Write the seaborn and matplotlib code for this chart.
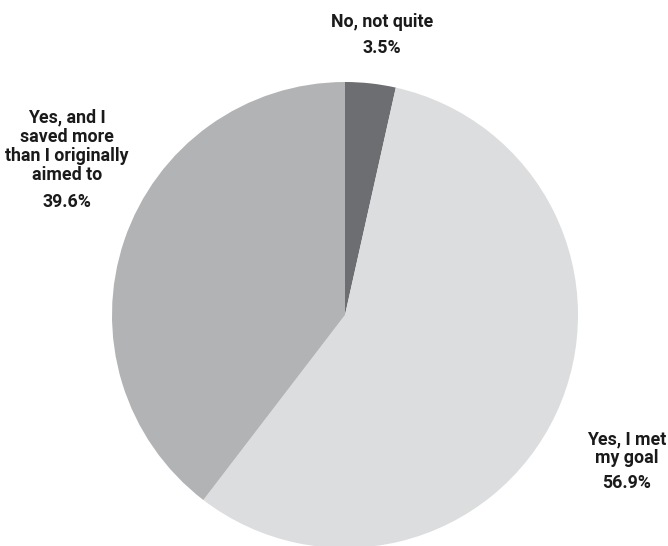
import matplotlib
matplotlib.use("Agg")
import matplotlib.pyplot as plt
from matplotlib import font_manager
import seaborn as sns

# Survey answers, clockwise from the top
labels = ["No, not quite", "Yes, I met\nmy goal", "Yes, and I\nsaved more\nthan I originally\naimed to"]
shares = [3.5, 56.9, 39.6]
colors = ["#6d6e71", "#dcdddf", "#b2b3b5"]

sns.set_theme(style="white")
available = {f.name for f in font_manager.fontManager.ttflist}
family = [f for f in ["Liberation Sans Narrow", "Roboto", "DejaVu Sans"] if f in available]
plt.rcParams["font.family"] = family

W, H = 668, 546
fig = plt.figure(figsize=(W / 100, H / 100), dpi=100)
ax = fig.add_axes([0, 0, 1, 1])

cx, cy, r = 345, H - 315, 233
ax.pie(shares, colors=colors, startangle=90, counterclock=False,
       center=(cx, cy), radius=r, frame=True,
       wedgeprops=dict(linewidth=0))
ax.set_xlim(0, W)
ax.set_ylim(0, H)
ax.set_aspect("equal")
ax.axis("off")

# Category names and percentages placed around the pie
label_pos = [(382, H - 22, H - 48), (627, H - 448.5, H - 483), (67, H - 146.5, H - 202)]
for lab, val, (x, y_lab, y_val) in zip(labels, shares, label_pos):
    ax.text(x, y_lab, lab, ha="center", va="center", fontsize=12.8,
            fontweight="bold", color="#1a1a1a", linespacing=1.08)
    ax.text(x, y_val, f"{val:.1f}%", ha="center", va="center", fontsize=12.8,
            fontweight="bold", color="#1a1a1a")

fig.savefig("out.png", dpi=100)
